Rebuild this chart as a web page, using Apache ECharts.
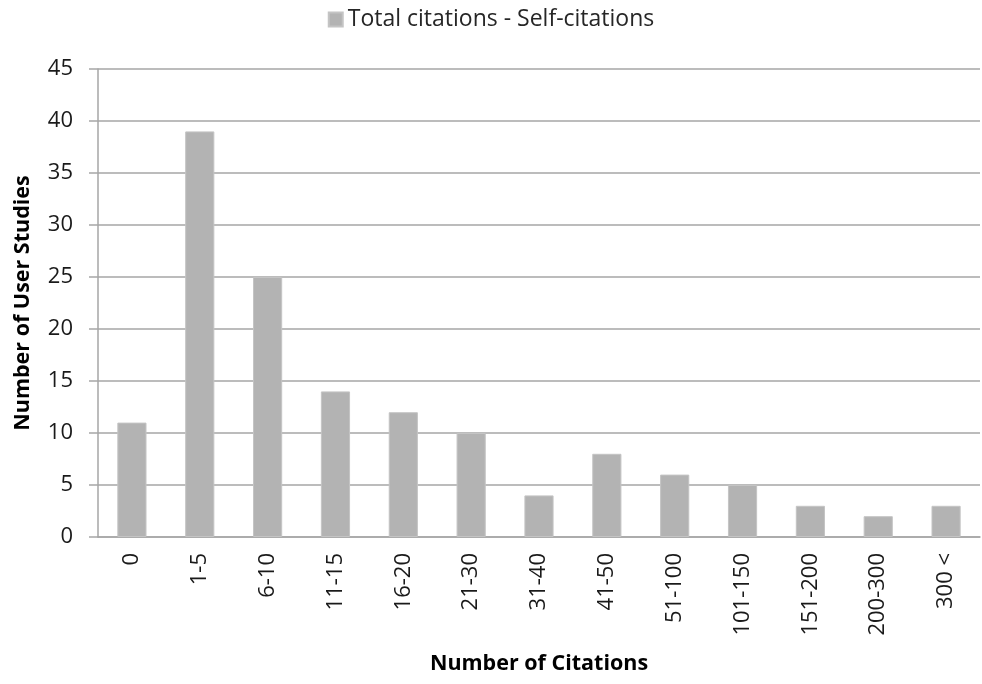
<!DOCTYPE html>
<html>
<head>
<meta charset="utf-8">
<script src="https://cdn.jsdelivr.net/npm/echarts@6/dist/echarts.min.js"></script>
<style>
  html, body { margin: 0; padding: 0; background: #ffffff; }
  #chart { width: 982px; height: 684px; }
</style>
</head>
<body>
<div id="chart"></div>
<script>
// Citation buckets and how many user studies fall into each
const categories = ['0', '1-5', '6-10', '11-15', '16-20', '21-30', '31-40', '41-50', '51-100', '101-150', '151-200', '200-300', '300 <'];
const studies = [11, 39, 25, 14, 12, 10, 4, 8, 6, 5, 3, 2, 3];
const seriesName = 'Total citations - Self-citations';
const yTicks = { min: 0, max: 45, interval: 5 };

const FONT = '"Open Sans", "Liberation Sans", sans-serif';
const chart = echarts.init(document.getElementById('chart'), null, { renderer: 'canvas' });

chart.setOption({
  animation: false,
  backgroundColor: '#ffffff',
  legend: {
    top: 3,
    left: 'center',
    itemWidth: 14,
    itemHeight: 14,
    itemGap: 6,
    icon: 'rect',
    textStyle: { fontFamily: FONT, fontSize: 23, color: '#262626' },
    data: [seriesName]
  },
  grid: { left: 98, right: 2, top: 69, bottom: 147, containLabel: false },
  xAxis: {
    type: 'category',
    data: categories,
    name: 'Number of Citations',
    nameLocation: 'middle',
    nameGap: 116,
    nameTextStyle: { fontFamily: FONT, fontSize: 21.5, fontWeight: 'bold', color: '#000000' },
    axisLine: { lineStyle: { color: '#a6a6a6', width: 1.5 } },
    axisTick: { show: false },
    axisLabel: {
      rotate: 90,
      margin: 16,
      fontFamily: FONT,
      fontSize: 22,
      color: '#1a1a1a'
    }
  },
  yAxis: {
    type: 'value',
    min: yTicks.min,
    max: yTicks.max,
    interval: yTicks.interval,
    name: 'Number of User Studies',
    nameLocation: 'middle',
    nameGap: 64,
    nameTextStyle: { fontFamily: FONT, fontSize: 21.5, fontWeight: 'bold', color: '#000000' },
    axisLine: { show: true, lineStyle: { color: '#a6a6a6', width: 1.5 } },
    axisTick: { show: true, length: 9, lineStyle: { color: '#a6a6a6', width: 1.5 } },
    splitLine: { lineStyle: { color: '#a6a6a6', width: 1.5 } },
    axisLabel: { margin: 25, fontFamily: FONT, fontSize: 22, color: '#1a1a1a' }
  },
  series: [{
    name: seriesName,
    type: 'bar',
    data: studies,
    barWidth: '43%',
    itemStyle: { color: '#b3b3b3', borderColor: '#c4c4c4', borderWidth: 1 }
  }]
});
</script>
</body>
</html>
